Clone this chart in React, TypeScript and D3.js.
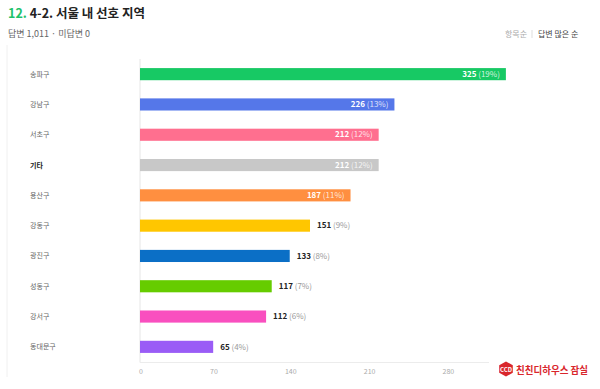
import React from "react";
import * as d3 from "d3";

const categories = ["송파구", "강남구", "서초구", "기타", "용산구", "강동구", "광진구", "성동구", "강서구", "동대문구"];
const values = [325, 226, 212, 212, 187, 151, 133, 117, 112, 65];
const percents = ["19%", "13%", "12%", "12%", "11%", "9%", "8%", "7%", "6%", "4%"];
const colors = ["#17c964", "#5577e9", "#ff6f8f", "#c8c8c8", "#ff8f40", "#ffc600", "#0b6fc6", "#66cc00", "#f94fbf", "#9a5cf6"];
const tickValues = [0, 70, 140, 210, 280];

const W = 600;
const H = 389;
const FONT = "'Noto Sans CJK KR', 'Noto Sans', sans-serif";

export default function App() {
  const x = d3.scaleLinear().domain([0, 310]).range([140, 489]);
  const y = d3.scaleBand<string>().domain(categories).range([59, 362]).paddingInner(0.6).paddingOuter(0.3);
  const bw = y.bandwidth();

  return (
    <svg width={W} height={H} style={{ position: "absolute", left: 0, top: 0, fontFamily: FONT }}>
      <rect width={W} height={H} fill="#fff" />
      {/* title */}
      <text x={8} y={17.5} fontSize={12.5} fontWeight={700} fill="#222">
        <tspan fill="#1fc26a">12.</tspan>
        <tspan> 4-2. 서울 내 선호 지역</tspan>
      </text>
      <text x={8} y={36.5} fontSize={9} fill="#666">답변 1,011 · 미답변 0</text>
      <text x={505} y={36.5} fontSize={8} fill="#aaa">항목순</text>
      <line x1={532} x2={532} y1={30} y2={38} stroke="#ddd" />
      <text x={538} y={36.5} fontSize={8} fill="#444">답변 많은 순</text>

      {/* card border */}
      <line x1={7} x2={7} y1={45} y2={377} stroke="#f0f0f0" />

      {/* axes */}
      <line x1={x(0)} x2={x(0)} y1={59} y2={362.5} stroke="#e6e6e6" />
      <line x1={x(0)} x2={x(310)} y1={362.5} y2={362.5} stroke="#ececec" />
      {tickValues.map((t) => (
        <text key={t} x={x(t) - 1 + (t === 0 ? 4 : 0)} y={374} fontSize={7} fill="#aaa" textAnchor="end">
          {t}
        </text>
      ))}

      {categories.map((c, i) => {
        const yy = y(c)!;
        const cy = yy + bw / 2;
        const end = x(values[i]);
        const inside = values[i] >= 180;
        return (
          <g key={c}>
            <text x={30} y={cy + 2.5} fontSize={7} fill={c === "기타" ? "#222" : "#666"} fontWeight={c === "기타" ? 700 : 400}>
              {c}
            </text>
            <rect x={x(0)} y={yy} width={end - x(0)} height={bw} fill={colors[i]} />
            {inside ? (
              <text x={end - 6} y={cy + 2.7} fontSize={8} textAnchor="end" fill="#fff">
                <tspan fontWeight={700}>{values[i]}</tspan>
                <tspan fill="#ffffffcc"> ({percents[i]})</tspan>
              </text>
            ) : (
              <text x={end + 7} y={cy + 2.7} fontSize={8} fill="#222">
                <tspan fontWeight={700}>{values[i]}</tspan>
                <tspan fill="#999"> ({percents[i]})</tspan>
              </text>
            )}
          </g>
        );
      })}

      {/* logo */}
      <g transform="translate(506,369)">
        <polygon points="0,-7.5 6.8,-3.7 6.8,3.7 0,7.5 -6.8,3.7 -6.8,-3.7" fill="#d9262c" />
        <text x={0} y={2.5} fontSize={6} fontWeight={700} fill="#fff" textAnchor="middle">CCD</text>
      </g>
      <text x={516} y={373.5} fontSize={10} fontWeight={700} fill="#d9262c" textLength={72} lengthAdjust="spacingAndGlyphs">친친디하우스 잠실</text>
    </svg>
  );
}
